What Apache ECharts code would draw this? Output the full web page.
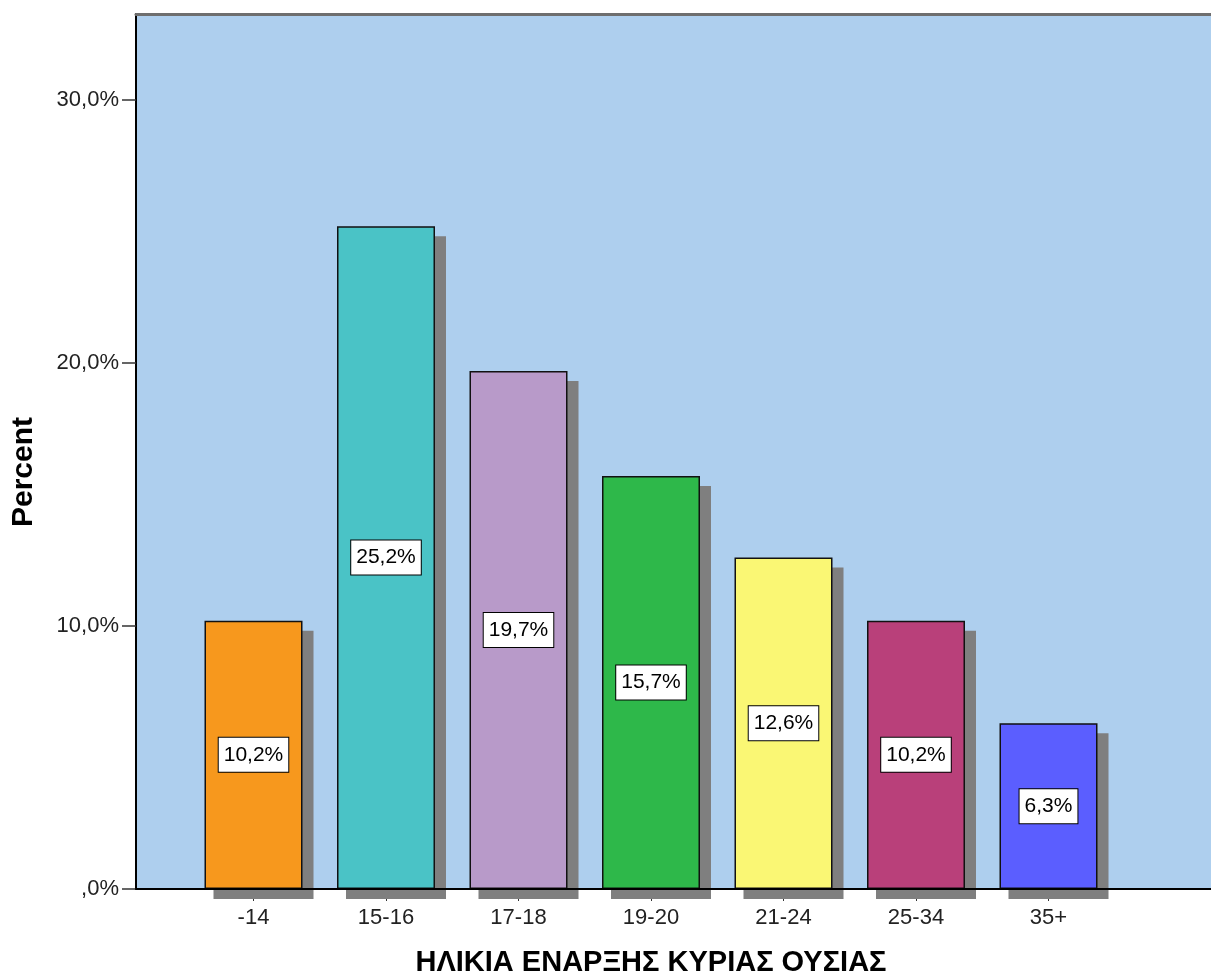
<!DOCTYPE html>
<html><head><meta charset="utf-8">
<script src="https://cdn.jsdelivr.net/npm/echarts@6/dist/echarts.min.js"></script>
<style>html,body{margin:0;padding:0;background:#fff;}#c{width:1211px;height:976px;}</style>
</head><body><div id="c"></div>
<script>
const categories = ['-14','15-16','17-18','19-20','21-24','25-34','35+'];
const percents = [10.2, 25.2, 19.7, 15.7, 12.6, 10.2, 6.3];
const barColors = ['#F7981D','#4AC3C6','#B89AC9','#2EB84A','#FAF774','#B9407A','#5B5EFF'];
const yTicks = [0, 10, 20, 30];
const xTitle = 'ΗΛΙΚΙΑ ΕΝΑΡΞΗΣ ΚΥΡΙΑΣ ΟΥΣΙΑΣ';
const yTitle = 'Percent';

const FONT = 'Liberation Sans, Arial, sans-serif';
const YMAX = 33.27;
const fmtY = v => v === 0 ? ',0%' : v.toFixed(1).replace('.', ',') + '%';

const chart = echarts.init(document.getElementById('c'), null, {renderer: 'canvas'});
chart.setOption({
  animation: false,
  grid: [
    {left: 136, right: 0, top: 14, bottom: 87, show: true, backgroundColor: '#AECFEE', borderWidth: 0,
     containLabel: false, outerBoundsMode: 'none'},
    {left: 187.25, width: 927.5, top: 14, bottom: 87, containLabel: false, outerBoundsMode: 'none'}
  ],
  xAxis: [
    {gridIndex: 0, type: 'value', min: 0, max: 1, z: 5,
     axisLine: {show: true, lineStyle: {color: '#000', width: 2}},
     axisTick: {show: false}, axisLabel: {show: false}, splitLine: {show: false}},
    {gridIndex: 0, type: 'value', min: 0, max: 1, position: 'top',
     axisLine: {show: true, lineStyle: {color: '#6e6e6e', width: 3}},
     axisTick: {show: false}, axisLabel: {show: false}, splitLine: {show: false}},
    {gridIndex: 1, type: 'category', data: categories,
     axisLine: {show: false},
     axisTick: {show: true, alignWithLabel: true, length: 12, lineStyle: {color: '#333', width: 1}},
     axisLabel: {margin: 18, fontSize: 22, color: '#222', fontFamily: FONT},
     name: xTitle, nameLocation: 'middle', nameGap: 59,
     nameTextStyle: {fontSize: 29, fontWeight: 'bold', color: '#000', fontFamily: FONT}}
  ],
  yAxis: [
    {gridIndex: 0, type: 'value', min: 0, max: YMAX,
     axisLine: {show: true, lineStyle: {color: '#000', width: 2}},
     axisTick: {show: true, length: 14, customValues: yTicks, lineStyle: {color: '#333', width: 1.5}},
     axisLabel: {customValues: yTicks, formatter: fmtY, fontSize: 22, color: '#222', margin: 17,
       fontFamily: FONT, padding: [8, 0, 0, 0]},
     splitLine: {show: false}},
    {gridIndex: 1, type: 'value', min: 0, max: YMAX, show: false, splitLine: {show: false}}
  ],
  graphic: [{
    type: 'text', x: 24, y: 472, rotation: Math.PI / 2,
    style: {text: yTitle, font: 'bold 30px ' + FONT, fill: '#000', align: 'center', verticalAlign: 'middle'}
  }],
  series: [
    {
      type: 'custom', xAxisIndex: 2, yAxisIndex: 1, z: 1, clip: false, silent: true,
      data: percents.map((v, i) => [i, v]),
      renderItem: (params, api) => {
        const top = api.coord([api.value(0), api.value(1)]);
        const bot = api.coord([api.value(0), 0]);
        return {type: 'rect',
          shape: {x: top[0] - 50 + 10, y: top[1] + 10, width: 100, height: bot[1] - top[1]},
          style: {fill: '#7F7F7F'}};
      }
    },
    {
      type: 'bar', xAxisIndex: 2, yAxisIndex: 1, z: 3, barWidth: 98,
      data: percents.map((v, i) => ({value: v, itemStyle: {color: barColors[i]}})),
      itemStyle: {borderColor: '#111', borderWidth: 1.5},
      label: {show: true, position: 'inside', formatter: p => p.value.toFixed(1).replace('.', ',') + '%',
        fontSize: 21, color: '#000', fontFamily: FONT, backgroundColor: '#fff',
        borderColor: '#000', borderWidth: 1, padding: [7, 5, 6, 5]}
    }
  ]
});
</script></body></html>
